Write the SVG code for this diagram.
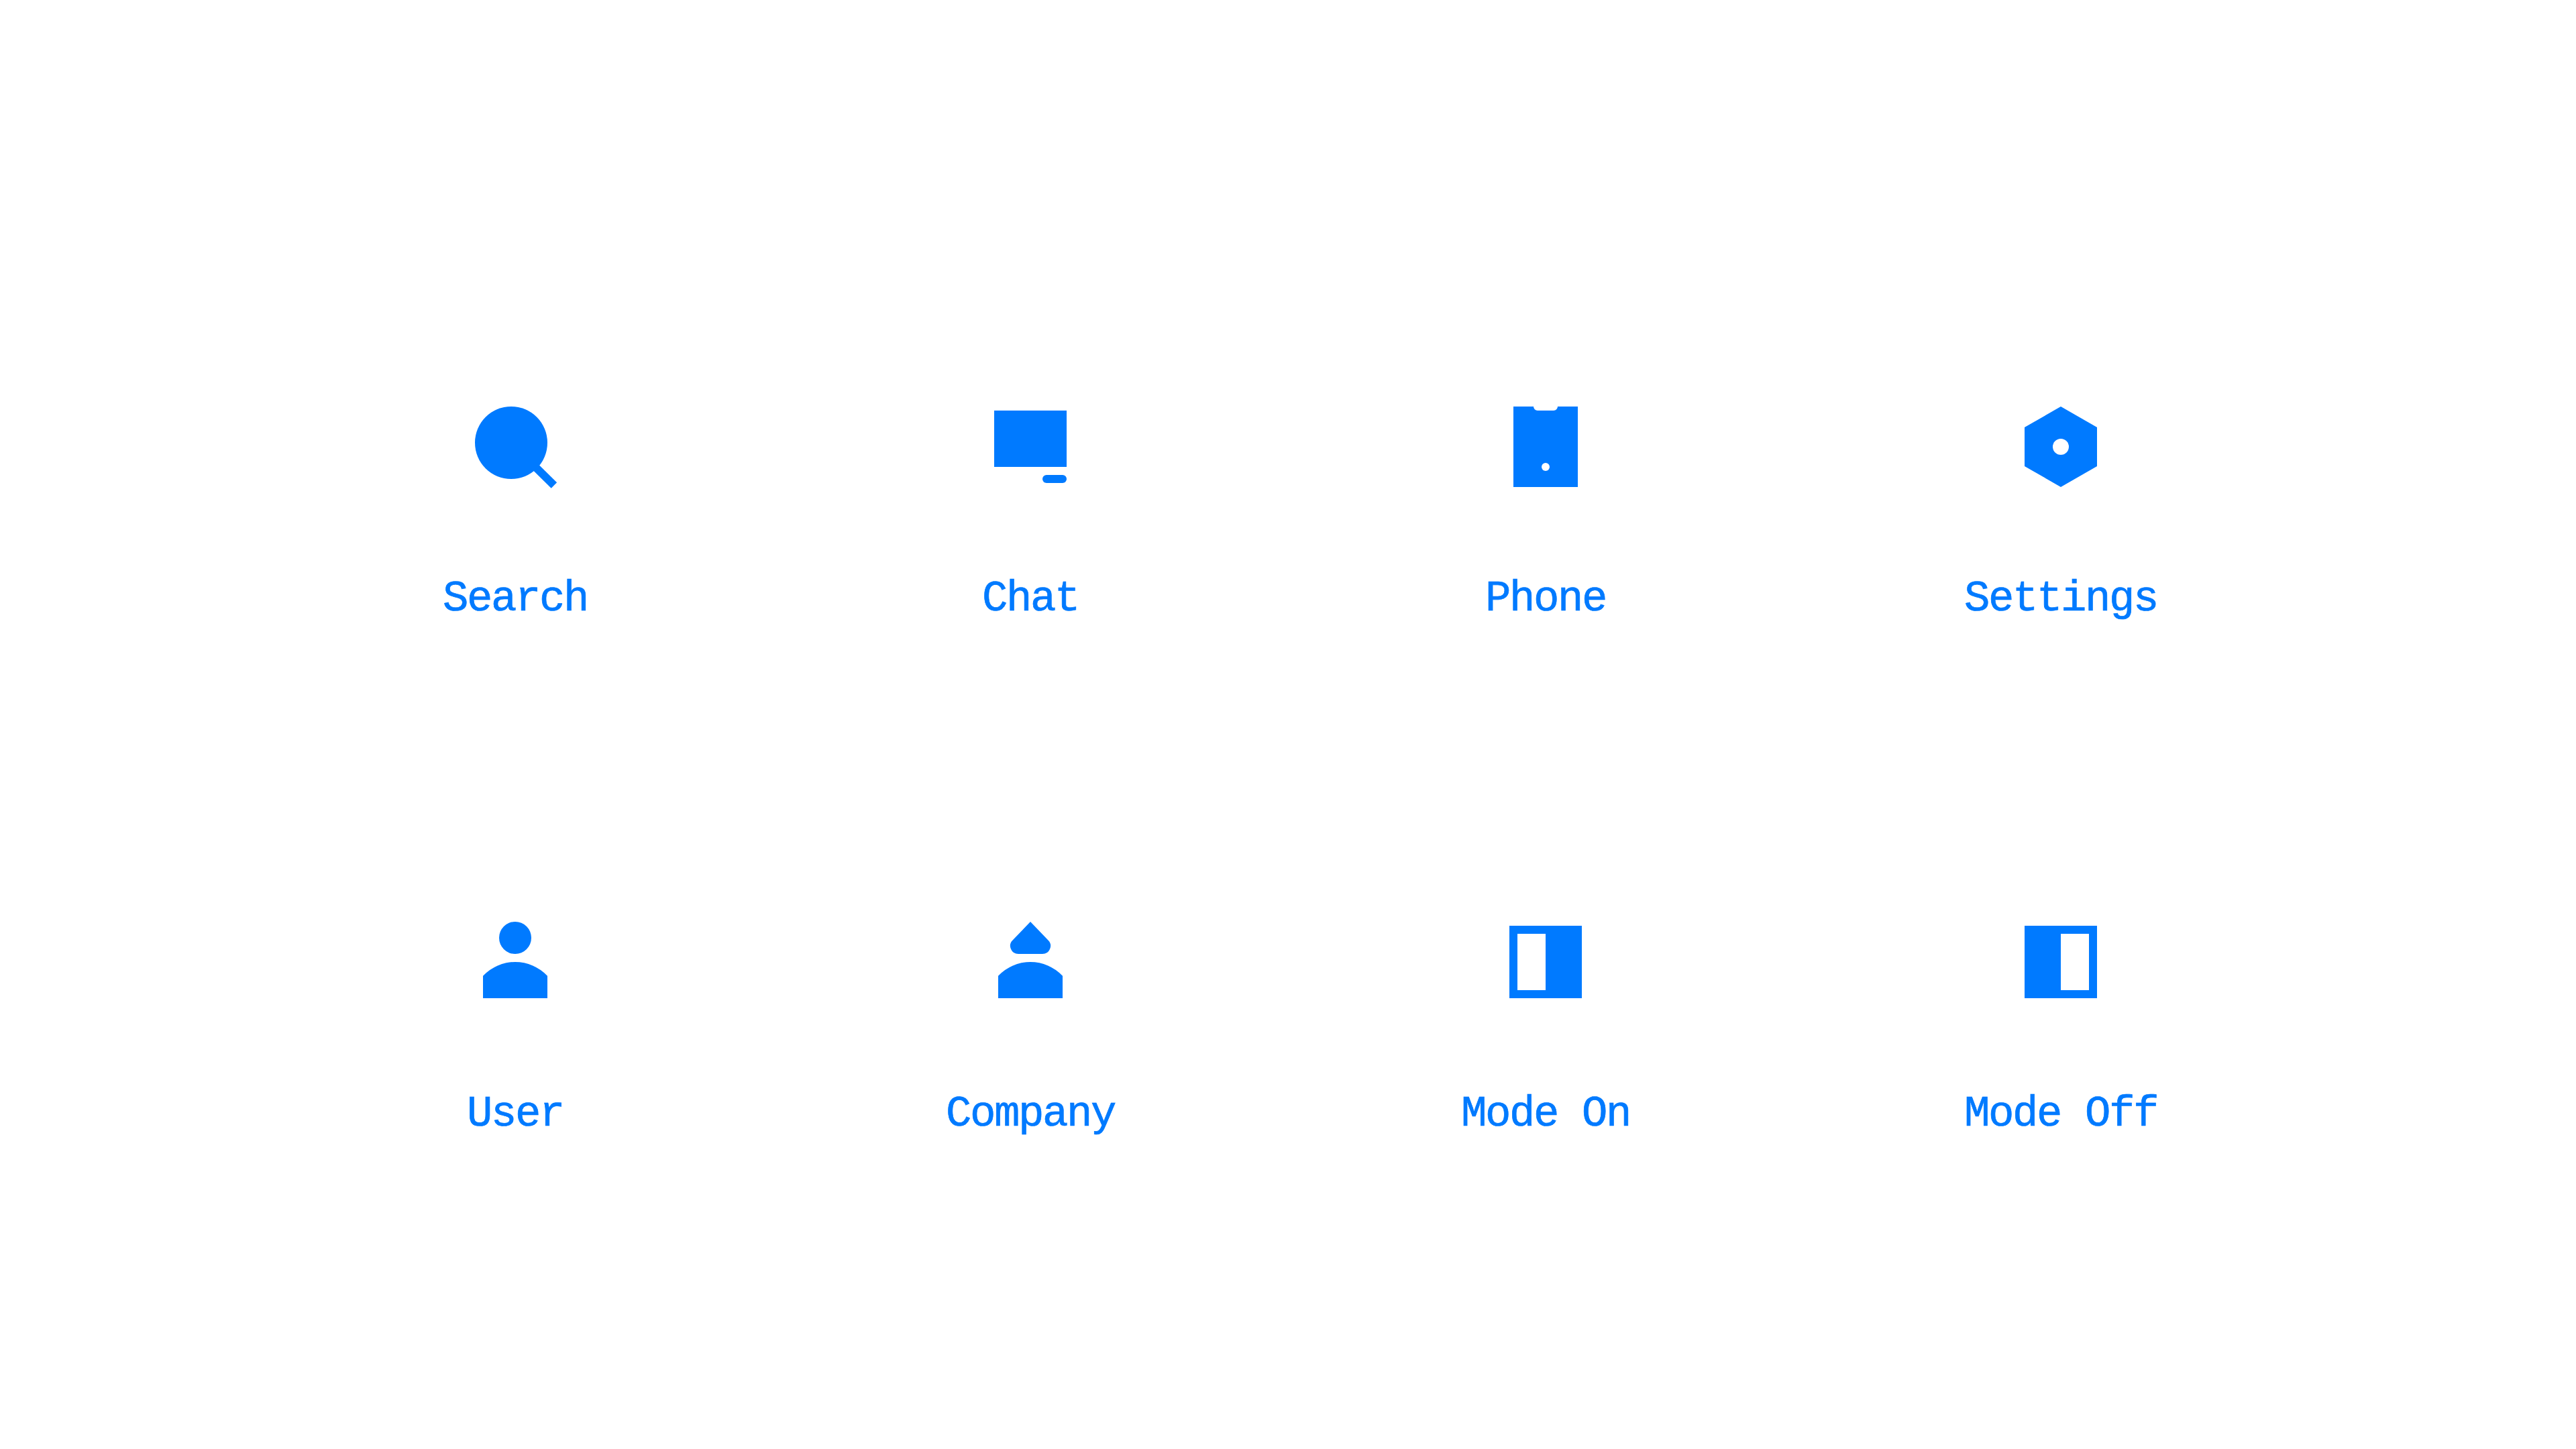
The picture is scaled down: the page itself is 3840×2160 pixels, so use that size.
<svg xmlns="http://www.w3.org/2000/svg" width="3840" height="2160" viewBox="0 0 3840 2160">
<style>
.i{fill:#007aff}
.c{fill:#fff}
.h{stroke:#007aff;stroke-width:12;fill:none}
text{fill:#007aff;stroke:#007aff;stroke-width:.7px;font-family:"Liberation Mono","DejaVu Sans Mono",monospace;font-size:64px;letter-spacing:-2.4px;text-anchor:middle}
</style>
<rect width="3840" height="2160" fill="#fff"/>
<g id="search"><circle class="i" cx="762" cy="660" r="54"/><path class="h" d="M799 697L825.9 723.5"/><text x="768" y="910">Search</text></g>
<g id="chat"><rect class="i" x="1482" y="612" width="108" height="84"/><rect class="i" x="1554" y="708" width="36" height="12" rx="6"/><text x="1536" y="910">Chat</text></g>
<g id="phone"><path class="i" d="M2256 606H2286A6 6 0 0 0 2292 612H2316A6 6 0 0 0 2322 606H2352V726H2256Z"/><circle class="c" cx="2304" cy="696" r="6"/><text x="2304" y="910">Phone</text></g>
<g id="settings"><path class="i" d="M3072 606L3126 637V695L3072 726L3018 695V637Z"/><circle class="c" cx="3072" cy="666" r="12"/><text x="3072" y="910">Settings</text></g>
<g id="user"><circle class="i" cx="768" cy="1398" r="24"/><path class="i" d="M720 1454.7A66 66 0 0 1 816 1454.7V1488H720Z"/><text x="768" y="1678">User</text></g>
<g id="company"><path class="i" d="M1536 1374L1562.65 1401.68A12 12 0 0 1 1554 1422H1518A12 12 0 0 1 1509.35 1401.68Z"/><path class="i" d="M1488 1454.7A66 66 0 0 1 1584 1454.7V1488H1488Z"/><text x="1536" y="1678">Company</text></g>
<g id="mode-on"><rect class="i" x="2250" y="1380" width="108" height="108"/><rect class="c" x="2262" y="1392" width="42" height="84"/><text x="2304" y="1678">Mode On</text></g>
<g id="mode-off"><rect class="i" x="3018" y="1380" width="108" height="108"/><rect class="c" x="3072" y="1392" width="42" height="84"/><text x="3072" y="1678">Mode Off</text></g>
</svg>
